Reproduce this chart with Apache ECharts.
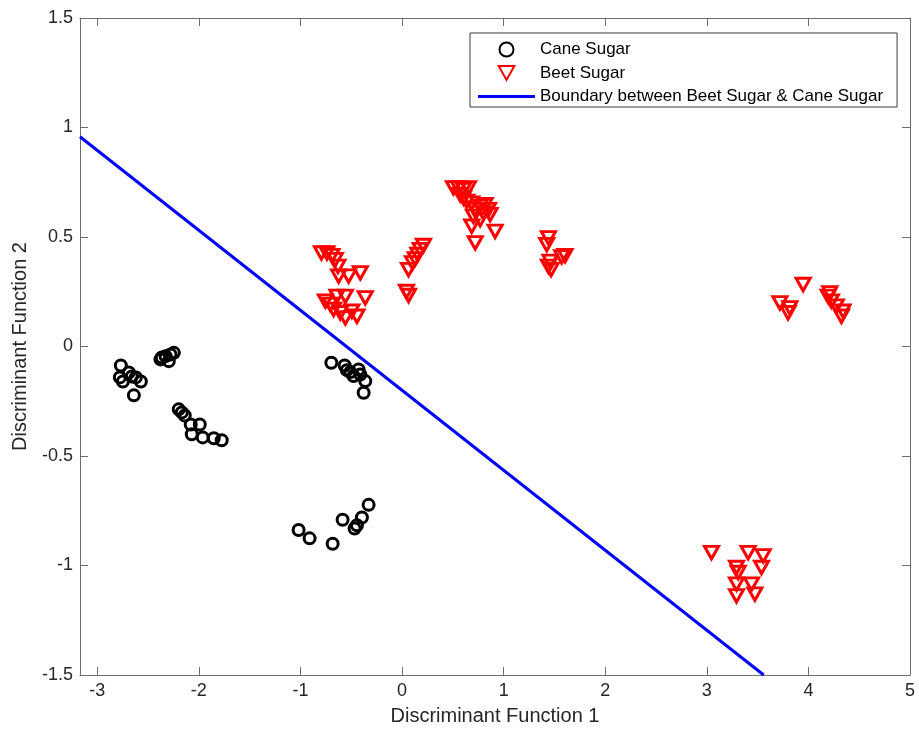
<!DOCTYPE html>
<html>
<head>
<meta charset="utf-8">
<script src="https://cdn.jsdelivr.net/npm/echarts@6/dist/echarts.min.js"></script>
<style>
  html, body { margin: 0; padding: 0; background: #fff; }
  #chart { width: 919px; height: 731px; }
</style>
</head>
<body>
<div id="chart"></div>
<script>
// Discriminant scores (Function 1, Function 2) for each sample
const caneSugar = [
  [-2.768, -0.087], [-2.778, -0.141], [-2.748, -0.160], [-2.689, -0.119],
  [-2.660, -0.137], [-2.620, -0.141], [-2.571, -0.160], [-2.640, -0.223],
  [-2.378, -0.059], [-2.328, -0.044], [-2.279, -0.036], [-2.246, -0.029],
  [-2.296, -0.067], [-2.365, -0.050],
  [-2.198, -0.287], [-2.168, -0.301], [-2.139, -0.315], [-2.080, -0.356],
  [-1.991, -0.356], [-2.070, -0.401], [-1.962, -0.415], [-1.853, -0.419],
  [-1.775, -0.428],
  [-0.696, -0.074], [-0.565, -0.087], [-0.543, -0.108], [-0.509, -0.117],
  [-0.477, -0.135], [-0.428, -0.105], [-0.411, -0.128], [-0.362, -0.158],
  [-0.378, -0.211],
  [-1.018, -0.838], [-0.910, -0.876], [-0.683, -0.901], [-0.585, -0.791],
  [-0.467, -0.831], [-0.444, -0.816], [-0.395, -0.781], [-0.329, -0.723]
];

const beetSugar = [
  [-0.794, 0.427], [-0.739, 0.427], [-0.690, 0.415], [-0.657, 0.397],
  [-0.631, 0.366], [-0.624, 0.321], [-0.526, 0.321], [-0.411, 0.336],
  [-0.755, 0.207], [-0.706, 0.192], [-0.641, 0.229], [-0.558, 0.229],
  [-0.362, 0.222], [-0.674, 0.169], [-0.608, 0.154], [-0.558, 0.131],
  [-0.494, 0.161], [-0.444, 0.138],
  [0.506, 0.724], [0.556, 0.724], [0.605, 0.716], [0.654, 0.724],
  [0.572, 0.693], [0.605, 0.678], [0.637, 0.663], [0.686, 0.655],
  [0.720, 0.625], [0.769, 0.640], [0.818, 0.648], [0.851, 0.625],
  [0.801, 0.610], [0.867, 0.602], [0.703, 0.594], [0.769, 0.579],
  [0.686, 0.549], [0.916, 0.526], [0.720, 0.473],
  [0.211, 0.461], [0.179, 0.442], [0.155, 0.420], [0.130, 0.400],
  [0.103, 0.382], [0.064, 0.351], [0.044, 0.251], [0.064, 0.233],
  [1.441, 0.496], [1.424, 0.465], [1.571, 0.409], [1.605, 0.415],
  [1.457, 0.389], [1.441, 0.366], [1.467, 0.351],
  [3.948, 0.283], [3.719, 0.199], [3.817, 0.176], [3.800, 0.154],
  [4.210, 0.245], [4.194, 0.229], [4.226, 0.207], [4.275, 0.184],
  [4.341, 0.161], [4.325, 0.138],
  [3.046, -0.941], [3.407, -0.941], [3.555, -0.956], [3.292, -1.009],
  [3.309, -1.032], [3.538, -1.009], [3.292, -1.085], [3.440, -1.085],
  [3.292, -1.139], [3.473, -1.131]
];

// Decision boundary endpoints
const boundary = [[-3.17, 0.958], [3.56, -1.5]];

const xTicks = [-3, -2, -1, 0, 1, 2, 3, 4, 5];
const yTicks = [-1.5, -1, -0.5, 0, 0.5, 1, 1.5];

const FONT = '"Liberation Sans", Arial, Helvetica, sans-serif';
const AXIS_COLOR = '#6e6e6e';
const TEXT_COLOR = '#262626';

// Legend icons: a down-pointing triangle and a thin bar for the line
const TRIANGLE_ICON = 'path://M0,0 L14,0 L7,12.5 Z';
const LINE_ICON = 'path://M0,0 L57,0 L57,3 L0,3 Z';

function frameAxis(position, ticks, showLabels, extra) {
  return Object.assign({
    type: 'value',
    position: position,
    axisLine: { show: true, onZero: false, lineStyle: { color: AXIS_COLOR, width: 1 } },
    axisTick: { show: true, inside: true, length: 8, customValues: ticks,
                lineStyle: { color: AXIS_COLOR } },
    axisLabel: { show: showLabels, customValues: ticks, color: TEXT_COLOR,
                 fontFamily: FONT, fontSize: 18, margin: 7 },
    splitLine: { show: false }
  }, extra);
}

const chart = echarts.init(document.getElementById('chart'), null, { renderer: 'canvas' });

chart.setOption({
  animation: false,
  backgroundColor: '#fff',
  grid: { left: 80, right: 9, top: 18, bottom: 52, containLabel: false },
  xAxis: [
    frameAxis('bottom', xTicks, true, {
      min: -3.17, max: 5,
      name: 'Discriminant Function 1', nameLocation: 'middle', nameGap: 31,
      nameTextStyle: { color: TEXT_COLOR, fontFamily: FONT, fontSize: 20 }
    }),
    frameAxis('top', xTicks, false, { min: -3.17, max: 5 })
  ],
  yAxis: [
    frameAxis('left', yTicks, true, {
      min: -1.5, max: 1.5,
      name: 'Discriminant Function 2', nameLocation: 'middle', nameGap: 50,
      nameTextStyle: { color: TEXT_COLOR, fontFamily: FONT, fontSize: 20 }
    }),
    frameAxis('right', yTicks, false, { min: -1.5, max: 1.5 })
  ],
  legend: {
    orient: 'vertical',
    left: 470, top: 33,
    padding: [8, 14, 2, 8],
    itemGap: 6.5,
    itemWidth: 57, itemHeight: 14,
    symbolKeepAspect: true,
    backgroundColor: '#fff',
    borderColor: '#3a3a3a', borderWidth: 1,
    textStyle: { color: '#000', fontFamily: FONT, fontSize: 17 },
    data: [
      { name: 'Cane Sugar', icon: 'circle' },
      { name: 'Beet Sugar', icon: TRIANGLE_ICON },
      { name: 'Boundary between Beet Sugar & Cane Sugar', icon: LINE_ICON,
        itemStyle: { color: '#0000ff', borderWidth: 0 } }
    ]
  },
  series: [
    {
      name: 'Cane Sugar',
      type: 'scatter',
      data: caneSugar,
      symbol: 'circle',
      symbolSize: 11,
      itemStyle: { color: 'rgba(255,255,255,0)', borderColor: '#000', borderWidth: 3, opacity: 1 }
    },
    {
      name: 'Beet Sugar',
      type: 'scatter',
      data: beetSugar,
      symbol: 'triangle',
      symbolRotate: 180,
      symbolSize: [14, 12.5],
      itemStyle: { color: 'rgba(255,255,255,0)', borderColor: '#ff0000', borderWidth: 3, opacity: 1 }
    },
    {
      name: 'Boundary between Beet Sugar & Cane Sugar',
      type: 'line',
      data: boundary,
      symbol: 'none',
      lineStyle: { color: '#0000ff', width: 3 },
      itemStyle: { color: '#0000ff' }
    }
  ]
});
</script>
</body>
</html>
